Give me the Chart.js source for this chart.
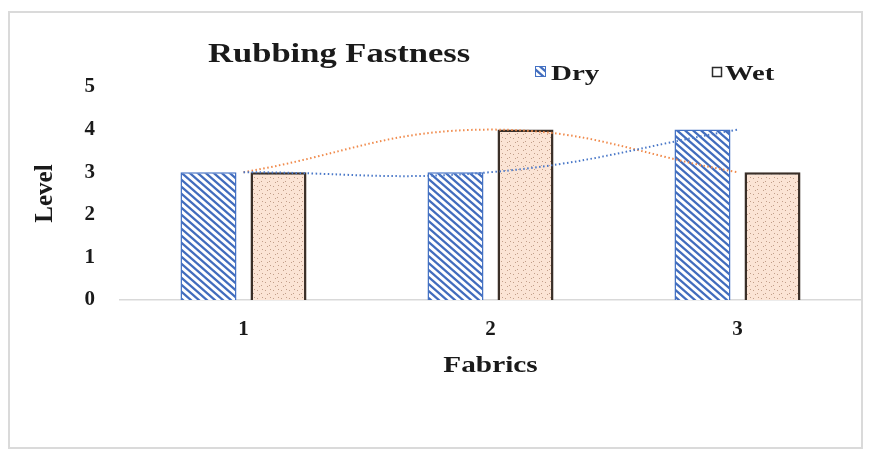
<!DOCTYPE html>
<html>
<head>
<meta charset="utf-8">
<script src="https://cdn.jsdelivr.net/npm/chart.js@4"></script>
<style>
  body { margin: 0; background: #fff; }
  #wrap { width: 876px; height: 451px; position: relative; }
</style>
</head>
<body>
<div id="wrap"><canvas id="chart"></canvas></div>
<script>
'use strict'

const categories = ['1', '2', '3']
const dry = [3, 3, 4]
const wet = [3, 4, 3]
const seriesNames = ['Dry', 'Wet']
const chartTitle = 'Rubbing Fastness'
const xTitle = 'Fabrics'
const yTitle = 'Level'
const yMax = 5

const serif = '"Liberation Serif", "Times New Roman", serif'

// diagonal stripes for Dry
const makeStripes = () => {
  const c = document.createElement('canvas')
  c.width = 8
  c.height = 7
  const g = c.getContext('2d')
  g.fillStyle = '#ffffff'
  g.fillRect(0, 0, 8, 7)
  g.strokeStyle = '#416cbd'
  g.lineWidth = 2.3
  for (const k of [-1, 0, 1]) {
    g.beginPath()
    g.moveTo(-2 + k * 8, -2 * 7 / 8)
    g.lineTo(10 + k * 8, 10 * 7 / 8)
    g.stroke()
  }
  return g.createPattern(c, 'repeat')
}

// light dotted fill for Wet
const makeDots = () => {
  const c = document.createElement('canvas')
  c.width = 8
  c.height = 8
  const g = c.getContext('2d')
  g.fillStyle = '#fbe4d5'
  g.fillRect(0, 0, 8, 8)
  g.fillStyle = '#c29f8a'
  for (const [x, y] of [[1, 2], [5, 5], [6, 1], [3, 6]]) g.fillRect(x, y, 1, 1)
  return g.createPattern(c, 'repeat')
}

const dryFill = makeStripes()
const wetFill = makeDots()

const stretchText = (ctx, text, x, y, sx, align) => {
  ctx.save()
  ctx.translate(x, y)
  ctx.scale(sx, 1)
  ctx.textAlign = align || 'left'
  ctx.textBaseline = 'alphabetic'
  ctx.fillText(text, 0, 0)
  ctx.restore()
}

const decor = {
  id: 'decor',
  beforeDraw: (chart) => {
    const ctx = chart.ctx
    ctx.save()
    ctx.fillStyle = '#ffffff'
    ctx.fillRect(0, 0, chart.width, chart.height)
    ctx.strokeStyle = '#dadada'
    ctx.lineWidth = 2
    ctx.strokeRect(9, 12, 853, 436)
    ctx.restore()
  },
  afterDraw: (chart) => {
    const ctx = chart.ctx
    const area = chart.chartArea
    ctx.save()
    ctx.fillStyle = '#1a1a1a'
    ctx.font = 'bold 27px ' + serif
    stretchText(ctx, chartTitle, 208, 62, 1.28)

    ctx.font = 'bold 24px ' + serif
    stretchText(ctx, xTitle, (area.left + area.right) / 2, 372, 1.22, 'center')

    // legend
    ctx.fillStyle = dryFill
    ctx.fillRect(535, 66, 11, 11)
    ctx.strokeStyle = '#4472c4'
    ctx.lineWidth = 1
    ctx.strokeRect(535.5, 66.5, 10, 10)
    ctx.fillStyle = '#ffffff'
    ctx.fillRect(712, 67, 10, 10)
    ctx.strokeStyle = '#2b2b2b'
    ctx.lineWidth = 1.5
    ctx.strokeRect(712.5, 67.5, 9, 9)

    ctx.fillStyle = '#1a1a1a'
    ctx.font = 'bold 22px ' + serif
    stretchText(ctx, seriesNames[0], 551, 80, 1.32)
    stretchText(ctx, seriesNames[1], 725, 80, 1.3)
    ctx.restore()
  }
}

const ctx = document.getElementById('chart')

new Chart(ctx, {
  type: 'bar',
  data: {
    labels: categories,
    datasets: [
      {
        label: seriesNames[0],
        data: dry,
        backgroundColor: dryFill,
        borderColor: '#4472c4',
        borderWidth: 1.5,
        order: 1
      },
      {
        label: seriesNames[1],
        data: wet,
        backgroundColor: wetFill,
        borderColor: '#3a2f28',
        borderWidth: 2.5,
        order: 1
      },
      {
        type: 'line',
        label: seriesNames[0] + ' trend',
        data: dry,
        borderColor: '#4a78c8',
        borderWidth: 2,
        borderDash: [1.5, 2.5],
        pointRadius: 0,
        tension: 0.42,
        fill: false,
        order: 0
      },
      {
        type: 'line',
        label: seriesNames[1] + ' trend',
        data: wet,
        borderColor: '#f08a4b',
        borderWidth: 2,
        borderDash: [1.5, 2.5],
        pointRadius: 0,
        tension: 0.42,
        fill: false,
        order: 0
      }
    ]
  },
  options: {
    responsive: true,
    maintainAspectRatio: false,
    animation: false,
    datasets: {
      bar: {
        categoryPercentage: 0.567,
        barPercentage: 0.8
      }
    },
    layout: {
      padding: { top: 87, right: 15, left: 0, bottom: 0 }
    },
    plugins: {
      legend: { display: false },
      title: { display: false },
      tooltip: { enabled: false }
    },
    scales: {
      x: {
        grid: { display: false, drawTicks: false },
        border: { display: true, color: '#d9d9d9', width: 1.5 },
        ticks: {
          padding: 17,
          color: '#1a1a1a',
          font: { family: serif, size: 21, weight: 'bold' }
        },
        afterFit: (scale) => { scale.height = 151 }
      },
      y: {
        min: 0,
        max: yMax,
        grid: { display: false, drawTicks: false },
        border: { display: false },
        ticks: {
          stepSize: 1,
          padding: 25,
          color: '#1a1a1a',
          font: { family: serif, size: 21, weight: 'bold' }
        },
        title: {
          display: true,
          text: yTitle,
          color: '#1a1a1a',
          padding: { top: 31, bottom: 0 },
          font: { family: serif, size: 25, weight: 'bold' }
        },
        afterFit: (scale) => { scale.width = 120 }
      }
    }
  },
  plugins: [decor]
})
</script>
</body>
</html>
